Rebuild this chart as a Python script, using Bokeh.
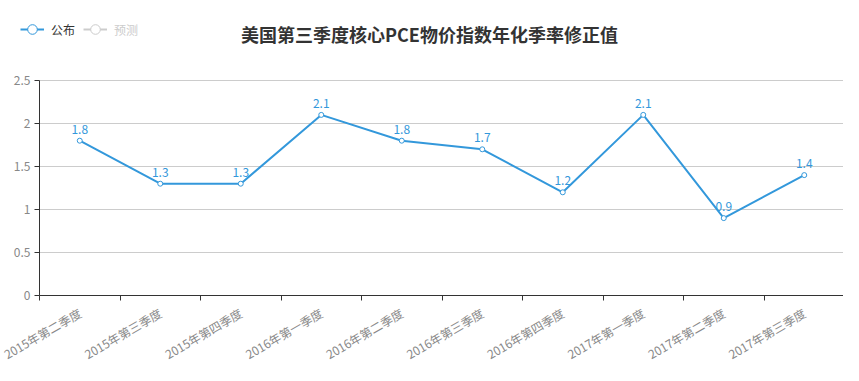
import numpy as np
from bokeh.plotting import figure
from bokeh.models import (ColumnDataSource, FixedTicker, Range1d, Legend, LegendItem,
                          Label, LabelSet)
from bokeh.core.properties import value
from bokeh.embed import file_html
from bokeh.resources import INLINE

title_text = "美国第三季度核心PCE物价指数年化季率修正值"
categories = ["2015年第二季度", "2015年第三季度", "2015年第四季度", "2016年第一季度",
              "2016年第二季度", "2016年第三季度", "2016年第四季度", "2017年第一季度",
              "2017年第二季度", "2017年第三季度"]
published = [1.8, 1.3, 1.3, 2.1, 1.8, 1.7, 1.2, 2.1, 0.9, 1.4]
forecast = [None] * len(categories)   # no forecast values shown (series switched off)
y_ticks = [0, 0.5, 1, 1.5, 2, 2.5]
y_tick_labels = ["0", "0.5", "1", "1.5", "2", "2.5"]
series_names = ["公布", "预测"]

FONT = "Noto Sans CJK SC"
BLUE = "#3398DB"
GREY = "#cccccc"

# layout (pixels)
W, H = 843, 365
GRID_L, GRID_R = 39, 844       # x pixel of the plot area edges
GRID_T, GRID_B = 80, 295       # y pixel of the plot area edges

n = len(categories)
xs = np.arange(n) + 0.5
ymax = y_ticks[-1]

# frame spans the whole figure; ranges are chosen so that the data area
# lands on the plot-area pixels
xscale = (GRID_R - GRID_L) / n
x0 = -GRID_L / xscale
x1 = x0 + W / xscale
yscale = (GRID_B - GRID_T) / ymax
y0 = -(H - GRID_B) / yscale
y1 = GRID_B / yscale

src = ColumnDataSource(dict(x=xs, y=published, lbl=[str(v) for v in published]))
src2 = ColumnDataSource(dict(x=xs, y=np.array(forecast, dtype=float)))

p = figure(width=W, height=H, output_backend="svg", toolbar_location=None,
           x_range=Range1d(x0, x1), y_range=Range1d(y0, y1), min_border=0)
p.outline_line_color = None

p.xaxis.fixed_location = 0
p.xaxis.bounds = (0, n)
p.xaxis.ticker = FixedTicker(ticks=list(xs), minor_ticks=list(range(n + 1)))
p.xaxis.major_label_overrides = {float(x): c for x, c in zip(xs, categories)}
p.xaxis.major_tick_line_color = None
p.xaxis.minor_tick_line_color = "#333333"
p.xaxis.minor_tick_in = 0
p.xaxis.minor_tick_out = 5
p.xaxis.axis_line_color = "#333333"
p.xaxis.major_label_orientation = np.pi / 6
p.xaxis.major_label_text_font = FONT
p.xaxis.major_label_text_font_size = "12px"
p.xaxis.major_label_text_color = "#888888"
p.xaxis.major_label_standoff = 10
p.xgrid.grid_line_color = None

p.yaxis.fixed_location = 0
p.yaxis.bounds = (0, ymax)
p.yaxis.ticker = FixedTicker(ticks=y_ticks)
p.yaxis.major_label_overrides = {float(t): l for t, l in zip(y_ticks, y_tick_labels)}
p.yaxis.axis_line_color = "#333333"
p.yaxis.major_tick_line_color = "#333333"
p.yaxis.major_tick_in = 0
p.yaxis.major_tick_out = 5
p.yaxis.minor_tick_line_color = None
p.yaxis.major_label_text_font = FONT
p.yaxis.major_label_text_font_size = "12px"
p.yaxis.major_label_text_color = "#888888"
p.yaxis.major_label_standoff = 4
p.ygrid.grid_line_color = "#cccccc"
p.ygrid.ticker = FixedTicker(ticks=y_ticks[1:])
p.ygrid.cross_bounds = (0, n)

ln = p.line("x", "y", source=src, line_color=BLUE, line_width=2)
sc = p.scatter("x", "y", source=src, size=5, line_color=BLUE, fill_color="white", line_width=1)
labels = LabelSet(x="x", y="y", text="lbl", source=src, text_align="center",
                  text_baseline="bottom", y_offset=7, text_font=value(FONT),
                  text_font_size=value("12px"), text_color=BLUE)
p.add_layout(labels)

ln2 = p.line("x", "y", source=src2, line_color=GREY, line_width=2)
sc2 = p.scatter("x", "y", source=src2, size=5, line_color=GREY, fill_color="white", line_width=1)

GH = 28
leg_y = H - 29 - GH / 2

def mk_legend(item, color, x):
    lg = Legend(items=[item], location=(x, leg_y), orientation="horizontal",
                border_line_color=None, background_fill_alpha=0, padding=0, margin=0,
                glyph_width=24, glyph_height=GH, label_height=14, label_standoff=7,
                label_text_font=FONT, label_text_font_size="12px", label_text_color=color)
    p.add_layout(lg)

mk_legend(LegendItem(label=series_names[0], renderers=[ln, sc]), "#333333", 20)
mk_legend(LegendItem(label=series_names[1], renderers=[ln2, sc2]), GREY, 83)

title = Label(x=429, y=H - 33, x_units="screen", y_units="screen", text=title_text,
              text_align="center", text_baseline="middle", text_font=FONT,
              text_font_size="18px", text_font_style="bold", text_color="#333333")
p.add_layout(title)

open("out.html", "w").write(file_html(p, INLINE))
